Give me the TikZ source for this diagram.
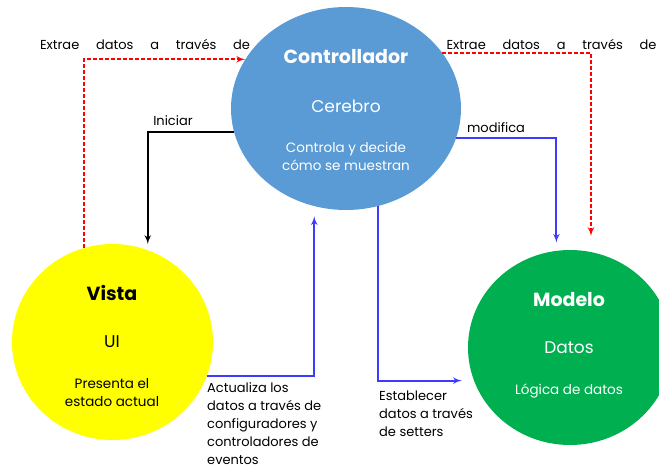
\documentclass[tikz,border=0pt]{standalone}
\usepackage{fontspec}
\setmainfont{Poppins}
\usetikzlibrary{arrows}
\usetikzlibrary{positioning}
\usetikzlibrary{shapes.geometric}
\definecolor{ctrlblue}{HTML}{5B9BD5}
\definecolor{vistayellow}{HTML}{FFFF00}
\definecolor{modelgreen}{HTML}{00B050}
\definecolor{flowblue}{HTML}{3C3CFF}
\definecolor{flowred}{HTML}{FF0000}
\tikzset{
  bubble/.style={ellipse, inner sep=0pt},
  ttl/.style={font=\fontsize{19}{22}\selectfont\bfseries},
  sub/.style={font=\fontsize{17}{20}\selectfont},
  note/.style={font=\fontsize{13.5}{18}\selectfont, align=center},
  lbl/.style={font=\fontsize{13}{18}\selectfont, align=left, inner sep=0pt},
  redflow/.style={draw=flowred, line width=2pt, dash pattern=on 4pt off 2pt, -latex'},
  blueflow/.style={draw=flowblue, line width=2pt, -latex'},
  blackflow/.style={draw=black, line width=2pt, -latex'}
}

\begin{document}
\begin{tikzpicture}[x=1pt, y=-1pt]
  \useasboundingbox (0,0) rectangle (659,468);
  \node[bubble, fill=ctrlblue, minimum width=230pt, minimum height=203pt] (ctrl) at (346,108.5) {};
  \node[bubble, fill=vistayellow, minimum width=201pt, minimum height=196pt] (vista) at (112.5,342) {};
  \node[bubble, fill=modelgreen, minimum width=204pt, minimum height=195pt] (modelo) at (570,347.5) {};

  \node[ttl, text=white] (ctrlname) at (346,57) {Controllador};
  \node[sub, text=white] (ctrlrole) at (346,106) {Cerebro};
  \node[note, text=white] (ctrltask) at (346,156) {Controla y decide\\cómo se muestran};
  \node[ttl] (vistaname) at (112,293) {Vista};
  \node[sub] (vistarole) at (112,342) {UI};
  \node[note] (vistatask) at (112,393) {Presenta el\\estado actual};
  \node[ttl, text=white] (modeloname) at (569,300) {Modelo};
  \node[sub, text=white] (modelorole) at (569,348) {Datos};
  \node[note, text=white] (modelotask) at (569,391) {Lógica de datos};

  \coordinate (redtip) at (591,236);
  \draw[redflow] (vista.107) |- (ctrl.154);
  \draw[redflow] (ctrl.30) -| (redtip);
  \draw[blackflow, shorten >=6pt] (ctrl.192) -| (vista.69);
  \draw[blueflow, shorten >=8pt] (ctrl.-15) -| (modelo.98);
  \draw[blueflow, shorten >=10pt] (vista.-20) -| (ctrl.252);
  \draw[blueflow, shorten >=12pt] (ctrl.288) |- (modelo.199);

  \node[lbl] (extraeleft) at (145,44) {\makebox[210pt][s]{Extrae datos a través de}};
  \node[lbl] (extraeright) at (551.5,44) {\makebox[210pt][s]{Extrae datos a través de}};
  \node[lbl] (iniciar) at (173,121) {Iniciar};
  \node[lbl] (modifica) at (496,128) {modifica};
  \node[lbl, anchor=north west] (actualiza) at (207,382) {Actualiza los\\datos a través de\\configuradores y\\controladores de\\eventos};
  \node[lbl, anchor=north west] (establecer) at (379,391) {Establecer\\datos a través\\de setters};
\end{tikzpicture}
\end{document}
